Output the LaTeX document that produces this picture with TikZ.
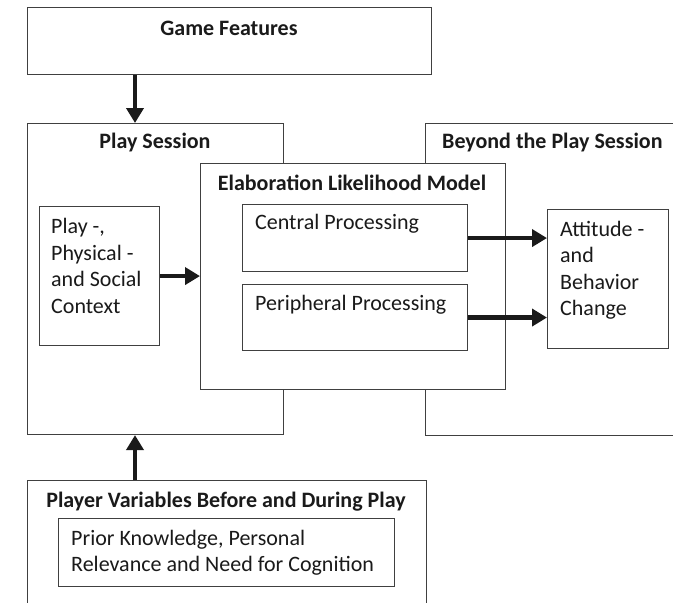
\documentclass[tikz,border=0pt]{standalone}
\usepackage{fontspec}
\setmainfont{Carlito}
\usetikzlibrary{arrows.meta,calc}
\definecolor{edge}{HTML}{404040}
\definecolor{ink}{HTML}{1A1A1A}
\begin{document}
\begin{tikzpicture}[x=1pt,y=-1pt,
  box/.style={draw=edge,line width=1.1pt,fill=white,anchor=north west,inner sep=0pt},
  title/.style={text=ink,font=\fontsize{22}{26.5}\selectfont\bfseries,inner sep=0pt},
  body/.style={text=ink,font=\fontsize{22}{26.5}\selectfont,inner sep=0pt,align=left,anchor=west},
  bigarrow/.style={draw=ink,line width=4.5pt,-{Triangle[length=15pt,width=17pt]}}]
\useasboundingbox (0,0) rectangle (673,603);
\clip (0,0) rectangle (673,603);

% outer frames
\node[box,minimum width=404pt,minimum height=67pt] (gf) at (27,7) {};
\node[title] (gft) at (229,28) {Game Features};

\node[box,minimum width=256pt,minimum height=311pt] (ps) at (27,123) {};
\node[title] (pst) at (155,143) {Play Session};

\node[box,minimum width=300pt,minimum height=312pt] (bp) at (425,123) {};
\node[title,anchor=west] (bpt) at (442,143) {Beyond the Play Session};

\node[box,minimum width=399pt,minimum height=140pt] (pv) at (27,480) {};
\node[title] (pvt) at (226,502) {Player Variables Before and During Play};
\node[box,minimum width=336pt,minimum height=68pt] (pk) at (58,518) {};
\node[body] (pkt) at (71,552.5) {Prior Knowledge, Personal\\Relevance and Need for Cognition};

% context of play
\node[box,minimum width=120pt,minimum height=139pt] (ctx) at (39,206) {};
\node[body] (ctxt) at (51,266) {Play -,\\Physical -\\and Social\\Context};

% elaboration likelihood model
\node[box,minimum width=305pt,minimum height=226pt] (elm) at (200,163) {};
\node[title] (elmt) at (352,183) {Elaboration Likelihood Model};
\node[box,minimum width=225pt,minimum height=67pt] (cen) at (242,204) {};
\node[body] (cent) at (255,224) {Central Processing};
\node[box,minimum width=225pt,minimum height=66pt] (per) at (242,284) {};
\node[body] (pert) at (255,305) {Peripheral Processing};

% outcome
\node[box,minimum width=121pt,minimum height=139pt] (att) at (547,209) {};
\node[body] (attt) at (560,270) {Attitude -\\and\\Behavior\\Change};

% connectors
\draw[bigarrow] ([xshift=108pt]gf.south west) -- ([xshift=108pt]ps.north west);
\draw[bigarrow] ([xshift=108pt]pv.north west) -- ([xshift=108pt]ps.south west);
\draw[bigarrow] (ctx.east) -- (elm.west |- ctx.east);
\draw[bigarrow] (cen.east) -- (att.west |- cen.east);
\draw[bigarrow] (per.east) -- (att.west |- per.east);
\end{tikzpicture}
\end{document}
